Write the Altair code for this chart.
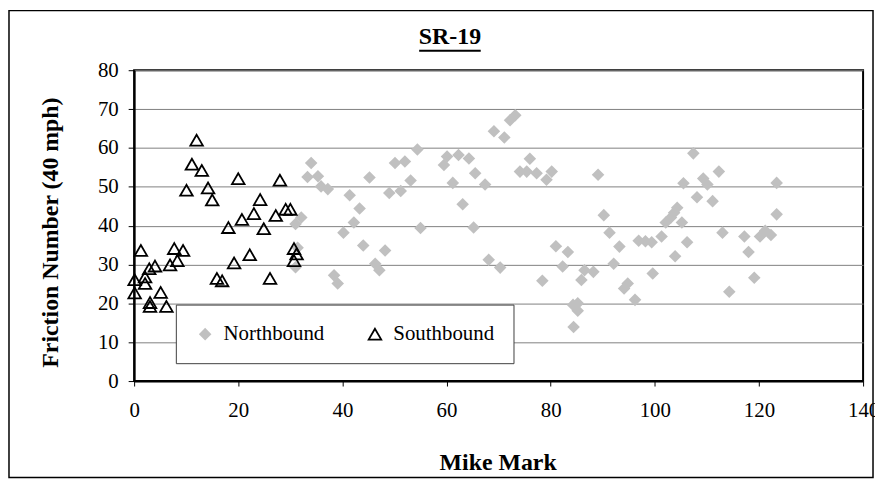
import altair as alt
import pandas as pd

# Northbound (gray diamonds)
nb_x = [31.0, 32.1, 31.4, 31.0, 33.3, 34.0, 35.3, 35.9, 37.2, 38.4, 39.1, 40.2, 41.4, 42.2, 43.3, 44.0,
        45.2, 46.3, 47.1, 48.2, 49.0, 50.1, 51.2, 52.0, 53.1, 54.4, 55.0, 59.5, 60.1, 61.2, 62.3, 63.1,
        64.3, 65.2, 65.5, 67.4, 68.1, 69.1, 70.3, 71.1, 72.2, 73.2, 74.1, 75.4, 76.0, 77.3, 78.4, 79.2,
        80.2, 81.0, 82.3, 83.3, 84.3, 84.4, 85.2, 85.2, 85.9, 86.5, 88.2, 89.1, 90.2, 91.3, 92.1, 93.2,
        94.1, 94.8, 96.2, 96.9, 98.2, 99.4, 99.6, 101.3, 102.1, 103.1, 103.7, 103.9, 104.3, 105.2, 105.5,
        106.2, 107.4, 108.1, 109.3, 110.1, 111.1, 112.3, 113.0, 114.3, 117.2, 118.0, 119.1, 120.2,
        121.2, 122.3, 123.4, 123.4]
nb_y = [40.4, 42.1, 34.3, 29.3, 52.5, 56.1, 52.7, 50.1, 49.4, 27.2, 25.1, 38.2, 47.8, 40.8, 44.4, 34.9,
        52.4, 30.2, 28.5, 33.6, 48.4, 56.1, 48.9, 56.5, 51.6, 59.6, 39.4, 55.6, 57.8, 51.0, 58.2, 45.5,
        57.3, 39.5, 53.5, 50.6, 31.2, 64.3, 29.2, 62.7, 67.1, 68.4, 53.9, 53.9, 57.2, 53.5, 25.8, 51.8,
        53.9, 34.7, 29.5, 33.2, 19.6, 13.9, 20.0, 18.1, 26.0, 28.5, 28.1, 53.1, 42.7, 38.2, 30.2, 34.6,
        23.8, 25.1, 20.9, 36.1, 36.0, 35.7, 27.7, 37.2, 40.8, 42.1, 43.3, 32.1, 44.6, 40.8, 50.9,
        35.7, 58.6, 47.3, 52.1, 50.6, 46.3, 53.9, 38.2, 23.0, 37.2, 33.2, 26.6, 37.2,
        38.7, 37.6, 51.0, 42.9]

# Southbound (open triangles)
sb_x = [0.1, 0.1, 1.3, 2.1, 2.1, 2.9, 4.0, 3.05, 3.05, 5.1, 6.2, 6.9, 8.3, 7.7, 9.4, 10.05, 11.1, 12.0,
        13.0, 14.2, 15.0, 15.9, 16.9, 18.1, 19.2, 20.0, 20.7, 22.2, 23.0, 24.2, 24.9, 26.1, 27.2, 28.0,
        29.1, 30.0, 30.7, 31.2, 30.7]
sb_y = [26.1, 22.7, 33.6, 26.8, 25.1, 28.9, 29.6, 20.2, 19.2, 22.8, 19.2, 29.9, 31.0, 34.1, 33.6, 49.1,
        55.8, 62.0, 54.2, 49.7, 46.6, 26.4, 25.8, 39.5, 30.4, 52.1, 41.6, 32.5, 43.1, 46.7, 39.2, 26.4,
        42.6, 51.7, 44.2, 44.2, 34.1, 32.7, 31.0]

series = ["Northbound", "Southbound"]
x_ticks = [0, 20, 40, 60, 80, 100, 120, 140]
y_ticks = [0, 10, 20, 30, 40, 50, 60, 70, 80]
title_text = "SR-19"

df = pd.concat([
    pd.DataFrame({"mile": nb_x, "fn": nb_y, "dir": series[0]}),
    pd.DataFrame({"mile": sb_x, "fn": sb_y, "dir": series[1]}),
], ignore_index=True)

FONT = "Liberation Serif"

legend = alt.Legend(
    title=None, orient="none", legendX=42, legendY=236, direction="horizontal",
    fillColor="white", strokeColor="#404040", padding=19, columnPadding=40,
    labelFont=FONT, labelFontSize=21, labelColor="black", labelOffset=8,
    symbolSize=160, symbolStrokeWidth=1.8,
)

points = alt.Chart(df).mark_point(opacity=1, strokeWidth=1.8, size=160).encode(
    x=alt.X("mile:Q", scale=alt.Scale(domain=[0, 140], nice=False, zero=False),
            axis=alt.Axis(values=x_ticks, grid=False, tickSize=5, labelPadding=14,
                          labelFlush=False,
                          title="Mike Mark", titleX=366, titleY=82,
                          titleBaseline="middle", titleAlign="center")),
    y=alt.Y("fn:Q", scale=alt.Scale(domain=[0, 80], nice=False),
            axis=alt.Axis(values=y_ticks, grid=True, tickSize=6, labelPadding=10,
                          labelFlush=False,
                          title="Friction Number (40 mph)", titleAngle=270,
                          titleX=-84, titleY=163, titleAlign="center",
                          titleBaseline="middle")),
    shape=alt.Shape("dir:N", scale=alt.Scale(domain=series, range=["diamond", "triangle-up"]),
                    legend=legend),
    fill=alt.Fill("dir:N", scale=alt.Scale(domain=series, range=["#C0C0C0", "transparent"]),
                  legend=legend),
    stroke=alt.Stroke("dir:N", scale=alt.Scale(domain=series, range=["transparent", "black"]),
                      legend=legend),
)

one = pd.DataFrame({"t": [title_text]})

title = alt.Chart(one).mark_text(
    font=FONT, fontSize=24, fontWeight="bold", align="center", baseline="alphabetic", color="black"
).encode(text="t:N", x=alt.value(318), y=alt.value(-26))

underline = alt.Chart(one).mark_rule(stroke="black", strokeWidth=2).encode(
    x=alt.value(287), x2=alt.value(349), y=alt.value(-19.5)
)

border = alt.Chart(one).mark_rect(fill="transparent", stroke="black", strokeWidth=1.5).encode(
    x=alt.value(-126), x2=alt.value(744), y=alt.value(-60), y2=alt.value(410)
)

chart = alt.layer(border, points, title, underline).properties(
    width=734, height=313,
    autosize=alt.AutoSizeParams(type="none"),
    padding={"left": 127, "top": 61, "right": 12, "bottom": 100},
).configure_view(
    stroke="black", strokeWidth=2
).configure_axis(
    domainColor="black", domainWidth=2, tickColor="black", tickWidth=1,
    labelFont=FONT, labelFontSize=21, labelColor="black",
    titleFont=FONT, titleFontSize=24, titleFontWeight="bold", titleColor="black",
    gridColor="#808080", gridWidth=1,
)

chart.save("out.html", embed_options={"renderer": "svg", "actions": False})
